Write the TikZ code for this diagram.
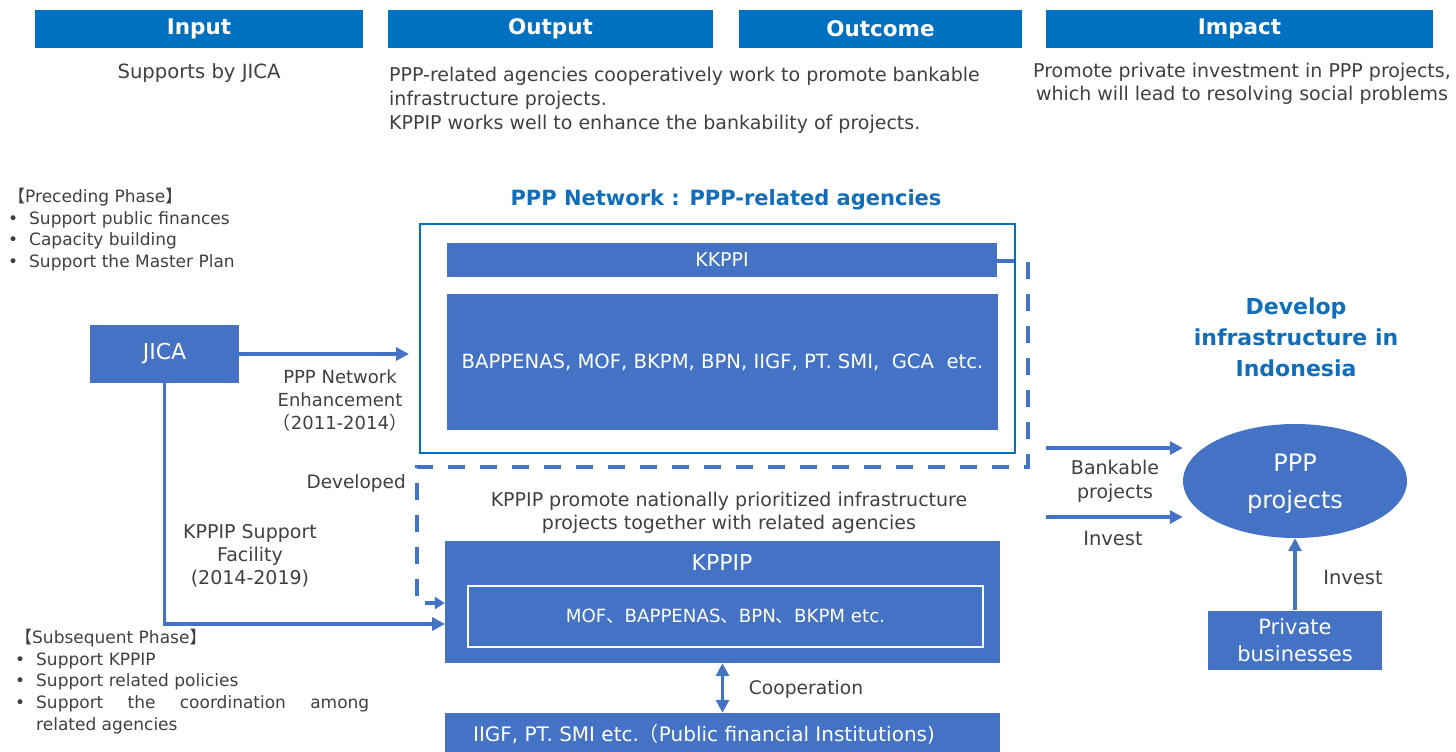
\documentclass[tikz,border=0pt]{standalone}
\usepackage{fontspec}
\setmainfont{DejaVu Sans}
\newfontfamily\cjk{Noto Sans CJK JP}
\usetikzlibrary{arrows.meta,shapes.geometric,calc}
\definecolor{hdr}{RGB}{0,112,192}
\definecolor{bx}{RGB}{68,114,196}
\definecolor{tx}{RGB}{64,64,64}
\definecolor{ttl}{RGB}{16,110,186}
\newcommand{\fs}[2]{\fontsize{#1}{#2}\selectfont}
\newcommand{\bul}{\makebox[21pt][l]{•}}
\tikzset{
  hdrbox/.style={fill=hdr, text=white, font=\fs{21.5}{24}\bfseries, minimum height=38pt, inner sep=0pt},
  fbox/.style={fill=bx, inner sep=0pt},
  plain/.style={text=tx, inner sep=0pt},
  arr/.style={draw=bx, line width=3.5pt, -{Triangle[length=13pt,width=13pt]}},
  darr/.style={draw=bx, line width=3.5pt, {Triangle[length=13pt,width=13pt]}-{Triangle[length=13pt,width=13pt]}},
  dline/.style={draw=bx, line width=4pt, dash pattern=on 17pt off 15pt},
}
\begin{document}
\begin{tikzpicture}[x=1pt,y=-1pt]
\useasboundingbox (0,0) rectangle (1456,752);
% headers
\node[hdrbox, minimum width=328pt] (hin) at (199,29) {Input};
\node[hdrbox, minimum width=325pt] (hout) at (550.5,29) {Output};
\node[hdrbox, minimum width=283pt] (hoc) at (880.5,29) {Outcome};
\node[hdrbox, minimum width=387pt] (himp) at (1239.5,29) {Impact};
\node[plain, font=\fs{19.6}{24}] (tin) at (199,73) {Supports by JICA};
\node[plain, font=\fs{19}{24}, align=left, anchor=west] (tout) at (389,100) {PPP-related agencies cooperatively work to promote bankable\\infrastructure projects.\\KPPIP works well to enhance the bankability of projects.};
\node[plain, font=\fs{19}{23}, align=center] (timp) at (1242,84) {Promote private investment in PPP projects,\\which will lead to resolving social problems};
% left notes
\node[plain, font=\fs{17}{21.5}, align=left, anchor=north west] (pre) at (8,188) {{\cjk 【}Preceding Phase{\cjk 】}\\\bul Support public finances\\\bul Capacity building\\\bul Support the Master Plan};
\node[plain, font=\fs{17}{21.7}, align=left, anchor=north west] (sub) at (15,629) {{\cjk 【}Subsequent Phase{\cjk 】}\\\bul Support KPPIP\\\bul Support related policies\\\bul \makebox[333pt][s]{Support the coordination among}\\\hspace*{21pt}related agencies};
% network
\node[text=ttl, font=\fs{21}{24}\bfseries] (ntitle) at (726,200) {PPP Network : PPP-related agencies};
\node[draw=hdr, line width=2pt, minimum width=595pt, minimum height=229pt, inner sep=0pt] (net) at (717.5,338.5) {};
\node[fbox, minimum width=550pt, minimum height=34pt, text=white, font=\fs{19}{20}] (kkppi) at (722,260) {KKPPI};
\node[fbox, minimum width=551pt, minimum height=136pt, text=white, font=\fs{19.6}{22}] (agen) at (722.5,362) {BAPPENAS, MOF, BKPM, BPN, IIGF, PT. SMI,\ \ GCA\ \ etc.};
% JICA
\node[fbox, minimum width=149pt, minimum height=58pt, text=white, font=\fs{22}{24}] (jica) at (164.5,354) {JICA};
\draw[arr, shorten >=10pt] (jica.east) -- (jica.east -| net.west);
\node[plain, font=\fs{18}{23}, align=center] (lenh) at (340,401) {PPP Network\\Enhancement\\{\cjk （}2011-2014{\cjk ）}};
% KPPIP
\node[plain, font=\fs{19}{23}, align=center] (tkp) at (729,513) {KPPIP promote nationally prioritized infrastructure\\projects together with related agencies};
\node[fbox, minimum width=555pt, minimum height=122pt] (kppip) at (722.5,602) {};
\node[text=white, font=\fs{22}{24}, inner sep=0pt] (kppipt) at (722,562) {KPPIP};
\node[draw=white, line width=1.3pt, minimum width=515pt, minimum height=61pt, text=white, font=\fs{18.2}{20}, inner sep=0pt] (mof) at (725.5,616.5) {MOF{\cjk 、}BAPPENAS{\cjk 、}BPN{\cjk 、}BKPM etc.};
\node[fbox, minimum width=555pt, minimum height=40pt] (iigf) at (722.5,733) {};
\node[text=white, font=\fs{20}{22}, inner sep=0pt] (iigft) at (704,734) {IIGF, PT. SMI etc.{\cjk （}Public financial Institutions)};
\draw[darr] (kppip.south) -- (iigf.north);
\node[plain, font=\fs{18.7}{20}] (coop) at (806,689) {Cooperation};
% dashed development link
\coordinate (d1) at (1028,261);
\coordinate (d2) at (1028,467);
\coordinate (d3) at (417,467);
\coordinate (d4) at (417,603);
\draw[dline, -{Triangle[length=10pt,width=12pt]}] (kkppi.east |- d1) -- (d1) -- (d2) -- (d3) -- (d4) -- (d4 -| kppip.west);
\node[plain, font=\fs{18.5}{20}, anchor=east] (ldev) at (406,483) {Developed};
% JICA to KPPIP
\coordinate (k2) at (445,624);
\draw[arr] (jica.south) -- (jica.south |- k2) -- (k2);
\node[plain, font=\fs{19}{23}, align=center] (lsup) at (250,556) {KPPIP Support\\Facility\\(2014-2019)};
% right side
\node[text=ttl, font=\fs{22}{31}\bfseries, align=center] (dev) at (1296,337) {Develop\\infrastructure in\\Indonesia};
\node[ellipse, fill=bx, minimum width=224pt, minimum height=114pt, inner sep=0pt] (ppp) at (1295,481) {};
\node[text=white, font=\fs{24}{37}, align=center, inner sep=0pt] (ppptxt) at (1295,484) {PPP\\projects};
\node[fbox, minimum width=174pt, minimum height=59pt, text=white, font=\fs{21}{27}, align=center] (priv) at (1295,640) {Private\\businesses};
\coordinate (b1) at (1046,448);
\coordinate (b2) at (1046,517);
\draw[arr] (b1) -- (b1 -| ppp.west);
\draw[arr] (b2) -- (b2 -| ppp.west);
\node[plain, font=\fs{19}{24}, align=center] (lbank) at (1115,481) {Bankable\\projects};
\node[plain, font=\fs{19.5}{20}] (linv) at (1113,539) {Invest};
\draw[arr] (priv.north) -- (ppp.south);
\node[plain, font=\fs{19.5}{20}] (linv2) at (1353,578) {Invest};
\end{tikzpicture}
\end{document}
